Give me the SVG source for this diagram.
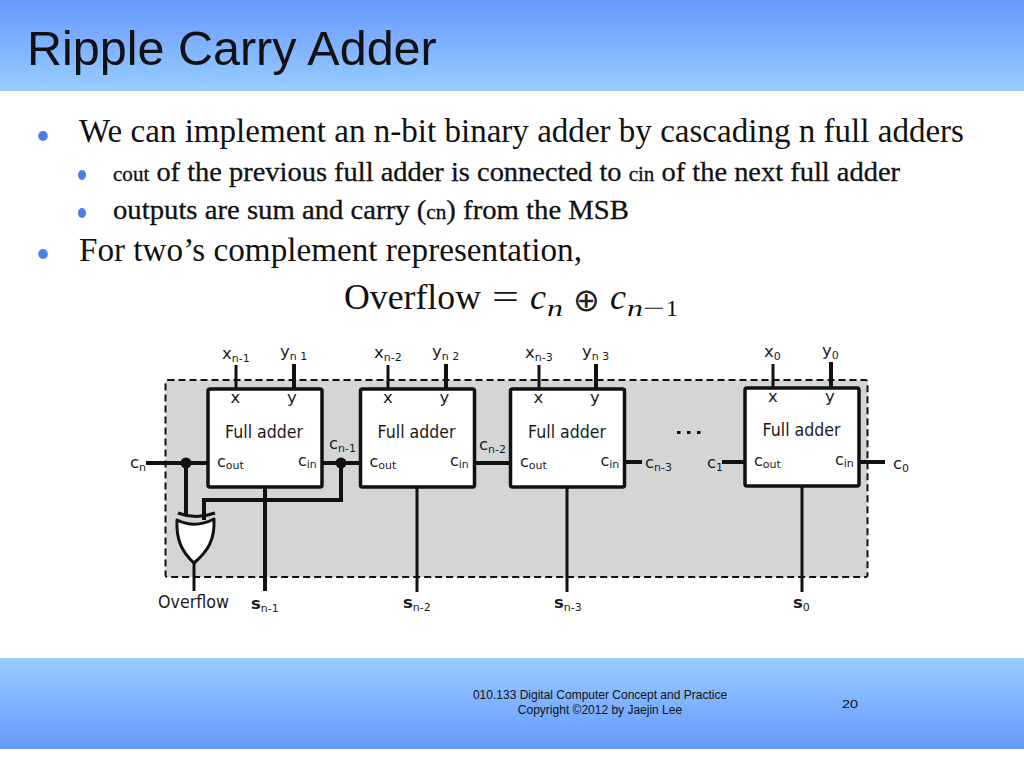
<svg xmlns="http://www.w3.org/2000/svg" width="1024" height="768" viewBox="0 0 1024 768">
<style>
.s{font-family:"Liberation Serif","Times New Roman",serif;fill:#111}
.d{font-family:"DejaVu Sans",Verdana,sans-serif;fill:#1a1a1a}
.a{font-family:"Liberation Sans",Arial,sans-serif;fill:#111}
.w{stroke:#111;fill:none;stroke-width:3}
.t{stroke:#111;fill:none;stroke-width:4}
.box{fill:#fff;stroke:#111;stroke-width:3.5;stroke-linejoin:round}
.sub{font-size:11px}
.l{font-size:16.500px}
.m{font-size:16px}
.fa{font-size:18px}
.dot{fill:#111}
.b{fill:#4a7fe8}
.h{stroke:#111;stroke-width:.3}
</style>
<defs>
<linearGradient id="hd" x1="0" y1="0" x2="0" y2="1"><stop offset="0" stop-color="#6699ff"/><stop offset="1" stop-color="#99ccff"/></linearGradient>
<linearGradient id="ft" x1="0" y1="0" x2="0" y2="1"><stop offset="0" stop-color="#99ccff"/><stop offset="1" stop-color="#6699ff"/></linearGradient>
</defs>
<rect id="header" x="0" y="0" width="1024" height="91" fill="url(#hd)"/>
<rect id="footer" x="0" y="658" width="1024" height="91" fill="url(#ft)"/>
<text id="title" x="27" y="64.500" class="a" font-size="48.500">Ripple Carry Adder</text>
<g id="bullets">
<ellipse class="b" cx="43" cy="136" rx="4.800" ry="5"/>
<ellipse class="b" cx="82" cy="175" rx="4" ry="5"/>
<ellipse class="b" cx="82" cy="213" rx="4" ry="5"/>
<ellipse class="b" cx="43" cy="254" rx="4.800" ry="5"/>
</g>
<g id="body">
<text class="s" x="79" y="142" font-size="33" textLength="885" lengthAdjust="spacingAndGlyphs">We can implement an n-bit binary adder by cascading n full adders</text>
<text class="s h" x="113" y="181" font-size="27" textLength="787" lengthAdjust="spacingAndGlyphs"><tspan font-size="20">cout</tspan> of the previous full adder is connected to <tspan font-size="20">cin</tspan> of the next full adder</text>
<text class="s h" x="113" y="219" font-size="27" textLength="516" lengthAdjust="spacingAndGlyphs">outputs are sum and carry (<tspan font-size="20">cn</tspan>) from the MSB</text>
<text class="s" x="79" y="261" font-size="33" textLength="503" lengthAdjust="spacingAndGlyphs">For two’s complement representation,</text>
</g>
<g id="formula">
<text class="s" x="344" y="309" font-size="36" textLength="137" lengthAdjust="spacingAndGlyphs">Overflow</text>
<text class="s" x="492" y="309" font-size="36" textLength="27" lengthAdjust="spacingAndGlyphs">=</text>
<text class="s" x="530" y="309" font-size="36" font-style="italic">c</text>
<text class="s" x="547" y="316" font-size="24" font-style="italic" textLength="16" lengthAdjust="spacingAndGlyphs">n</text>
<text class="d" x="573" y="311" font-size="32" style="fill:#222">⊕</text>
<text class="s" x="610" y="309" font-size="36" font-style="italic">c</text>
<text class="s" x="627" y="316" font-size="24" font-style="italic" textLength="16" lengthAdjust="spacingAndGlyphs">n</text>
<text class="s" x="643" y="316" font-size="24" textLength="22" lengthAdjust="spacingAndGlyphs">−</text>
<text class="s" x="666" y="316" font-size="24">1</text>
</g>
<rect id="panel" x="165.500" y="380" width="702" height="197" rx="2" fill="#d4d6d6" stroke="#111" stroke-width="2" stroke-dasharray="7 4"/>
<g id="connectors">
<path class="w" d="M236 365V389M388 365V389M539 365V389M773 364V388"/>
<path class="t" d="M294 364V389M446 364V389M596 364V389M831 362V388"/>
<path class="t" d="M146 463H207M322 463H360M475 463H510M625 462H642M722 462H745M859 462H885"/>
<path class="t" d="M186 463V516M341 463V500H204V520"/>
<path class="t" d="M265 486V591"/>
<path class="w" d="M417 486V592M567 486V592M802 486V592"/>
<path class="w" d="M194 562V591"/>
</g>
<g id="xor">
<path d="M178 513Q196 520 215 513" class="w"/>
<path d="M177 520Q195 529 214 519C215 540 208 551 194 563C182 552 176 540 177 520Z" fill="#fff" stroke="#111" stroke-width="3" stroke-linejoin="round"/>
</g>
<g id="junctions"><circle class="dot" cx="186" cy="463" r="5.500"/><circle class="dot" cx="341" cy="463" r="5.500"/></g>
<g id="fa3">
<rect class="box" x="208" y="389" width="114" height="98" rx="2"/>
<text class="d l" x="235.500" y="403" text-anchor="middle">x</text><text class="d l" x="292" y="403" text-anchor="middle">y</text>
<text class="d fa" x="225" y="438" textLength="78" lengthAdjust="spacingAndGlyphs">Full adder</text>
<text class="d m" x="217" y="467">c<tspan class="sub" dy="2">out</tspan></text>
<text class="d m" x="298" y="466">c<tspan class="sub" dy="2">in</tspan></text>
</g>
<g id="fa2">
<rect class="box" x="360.500" y="389" width="114" height="98" rx="2"/>
<text class="d l" x="388" y="403" text-anchor="middle">x</text><text class="d l" x="444.500" y="403" text-anchor="middle">y</text>
<text class="d fa" x="377.500" y="438" textLength="78" lengthAdjust="spacingAndGlyphs">Full adder</text>
<text class="d m" x="369.500" y="467">c<tspan class="sub" dy="2">out</tspan></text>
<text class="d m" x="450" y="466">c<tspan class="sub" dy="2">in</tspan></text>
</g>
<g id="fa1">
<rect class="box" x="510.500" y="389" width="114" height="98" rx="2"/>
<text class="d l" x="538.500" y="403" text-anchor="middle">x</text><text class="d l" x="595" y="403" text-anchor="middle">y</text>
<text class="d fa" x="528" y="438" textLength="78" lengthAdjust="spacingAndGlyphs">Full adder</text>
<text class="d m" x="520" y="467">c<tspan class="sub" dy="2">out</tspan></text>
<text class="d m" x="600.500" y="466">c<tspan class="sub" dy="2">in</tspan></text>
</g>
<g id="fa0">
<rect class="box" x="745" y="388" width="114" height="98" rx="2"/>
<text class="d l" x="773" y="402" text-anchor="middle">x</text><text class="d l" x="830" y="402" text-anchor="middle">y</text>
<text class="d fa" x="762.500" y="436" textLength="78" lengthAdjust="spacingAndGlyphs">Full adder</text>
<text class="d m" x="754" y="466">c<tspan class="sub" dy="2">out</tspan></text>
<text class="d m" x="835" y="465">c<tspan class="sub" dy="2">in</tspan></text>
</g>
<g id="labels">
<text class="d l" x="222" y="359">x<tspan class="sub" dy="3">n-1</tspan></text>
<text class="d l" x="280" y="357">y<tspan class="sub" dy="3">n 1</tspan></text>
<text class="d l" x="374" y="358">x<tspan class="sub" dy="3">n-2</tspan></text>
<text class="d l" x="432" y="357">y<tspan class="sub" dy="3">n 2</tspan></text>
<text class="d l" x="525" y="358">x<tspan class="sub" dy="3">n-3</tspan></text>
<text class="d l" x="582" y="357">y<tspan class="sub" dy="3">n 3</tspan></text>
<text class="d l" x="764" y="357">x<tspan class="sub" dy="3">0</tspan></text>
<text class="d l" x="822" y="356">y<tspan class="sub" dy="3">0</tspan></text>
<text class="d l" x="130" y="468">c<tspan class="sub" dy="3">n</tspan></text>
<text class="d l" x="329" y="449">c<tspan class="sub" dy="3">n-1</tspan></text>
<text class="d l" x="479" y="450">c<tspan class="sub" dy="3">n-2</tspan></text>
<text class="d l" x="645" y="468">c<tspan class="sub" dy="3">n-3</tspan></text>
<text class="d l" x="707" y="468">c<tspan class="sub" dy="3">1</tspan></text>
<text class="d l" x="893" y="469">c<tspan class="sub" dy="3">0</tspan></text>
<text class="d" x="158" y="608" font-size="17" textLength="71" lengthAdjust="spacingAndGlyphs">Overflow</text>
<text class="d l" x="251" y="609" font-weight="bold">s<tspan class="sub" font-weight="normal" dy="3">n-1</tspan></text>
<text class="d l" x="403" y="608" font-weight="bold">s<tspan class="sub" font-weight="normal" dy="3">n-2</tspan></text>
<text class="d l" x="554" y="608" font-weight="bold">s<tspan class="sub" font-weight="normal" dy="3">n-3</tspan></text>
<text class="d l" x="793" y="608" font-weight="bold">s<tspan class="sub" font-weight="normal" dy="3">0</tspan></text>
<g class="dot"><rect x="677" y="431" width="3.500" height="3"/><rect x="687" y="431" width="3.500" height="3"/><rect x="697" y="431" width="3.500" height="3"/></g>
</g>
<g id="footer-text">
<text class="a" x="600" y="699" font-size="12" text-anchor="middle">010.133 Digital Computer Concept and Practice</text>
<text class="a" x="600" y="714" font-size="12" text-anchor="middle">Copyright ©2012 by Jaejin Lee</text>
<text class="a" x="850" y="708" font-size="11.500" text-anchor="middle" textLength="16" lengthAdjust="spacingAndGlyphs">20</text>
</g>
</svg>
